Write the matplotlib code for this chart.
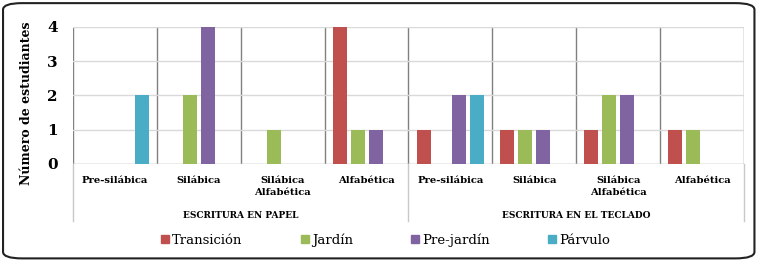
import numpy as np
import matplotlib.pyplot as plt
from matplotlib.patches import Patch, FancyBboxPatch

plt.rcParams['font.family'] = ['DejaVu Serif']

groups = ['ESCRITURA EN PAPEL', 'ESCRITURA EN EL TECLADO']
categories = ['Pre-silábica', 'Silábica', 'Silábica\nAlfabética', 'Alfabética'] * 2
series = ['Transición', 'Jardín', 'Pre-jardín', 'Párvulo']
colors = ['#C0504D', '#9BBB59', '#8064A2', '#4BACC6']
transicion = [0, 0, 0, 4, 1, 1, 1, 1]
jardin = [0, 2, 1, 1, 0, 1, 2, 1]
prejardin = [0, 4, 0, 1, 2, 1, 2, 0]
parvulo = [2, 0, 0, 0, 2, 0, 0, 0]
values = [transicion, jardin, prejardin, parvulo]

fig = plt.figure(figsize=(7.59, 2.61), dpi=100)
ax = fig.add_axes([0.0962, 0.372, 0.884, 0.525])

x = np.arange(len(categories))
offsets = [-0.321, -0.107, 0.107, 0.321]
for vals, off, c, name in zip(values, offsets, colors, series):
    ax.bar(x + off, vals, width=0.167, color=c, label=name, zorder=3)

ax.set_xlim(-0.5, len(categories) - 0.5)
ax.set_ylim(0, 4)
ax.set_yticks([0, 1, 2, 3, 4])
ax.set_yticklabels(['0', '1', '2', '3', '4'], fontsize=11, fontweight='bold')
ax.tick_params(axis='y', length=0, pad=11)
ax.set_xticks([])
for s in ax.spines.values():
    s.set_visible(False)
ax.grid(axis='y', color='#D9D9D9', lw=1, zorder=0)
ax.axhline(0, color='#BFBFBF', lw=1, zorder=2)
ax.set_ylabel('Número de estudiantes', fontsize=9, fontweight='bold')
ax.yaxis.set_label_coords(-0.059, 0.44)

# category separators
for b in np.arange(len(categories) + 1) - 0.5:
    ax.axvline(b, color='#808080', lw=1, zorder=1)
# group separators extending below the axis
for b in [-0.5, 3.5, 7.5]:
    ax.plot([b, b], [0, -0.42], transform=ax.get_xaxis_transform(),
            color='#C8C8C8', lw=1, clip_on=False)

trans = ax.get_xaxis_transform()
for xi, lab in zip(x, categories):
    ax.text(xi, -0.085, lab, transform=trans, ha='center', va='top',
            fontsize=7.2, fontweight='bold', linespacing=1.45)
for gi, g in enumerate(groups):
    ax.text(gi * 4 + 1.5, -0.345, g, transform=trans, ha='center', va='top',
            fontsize=6.5, fontweight='bold')

handles = [Patch(color=c, label=n) for c, n in zip(colors, series)]
fig.legend(handles=handles, loc='center', bbox_to_anchor=(0.508, 0.08), ncol=4,
           frameon=False, fontsize=9.5, handlelength=0.6, handleheight=0.6,
           handletextpad=0.25, columnspacing=4.4)

fig.patches.append(FancyBboxPatch((0.004, 0.01), 0.99, 0.978,
                                  boxstyle='round,pad=0,rounding_size=0.025',
                                  transform=fig.transFigure, fill=False,
                                  edgecolor='#222222', lw=1.5))

fig.savefig('out.png', dpi=100)
